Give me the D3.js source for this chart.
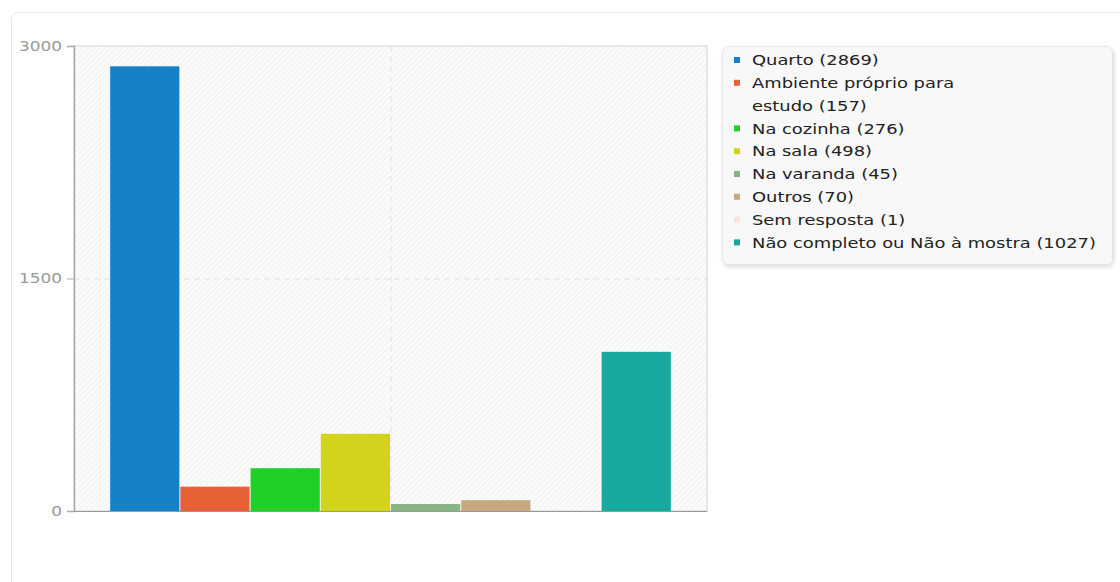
<!DOCTYPE html>
<html><head><meta charset="utf-8">
<script src="https://cdn.jsdelivr.net/npm/d3@7"></script>
<style>
body{margin:0;background:#fff;font-family:"DejaVu Sans",sans-serif;}
svg{display:block;}
</style></head><body>
<svg id="c" width="1120" height="582"></svg>
<script>
const categories = ["Quarto","Ambiente próprio para estudo","Na cozinha","Na sala","Na varanda","Outros","Sem resposta","Não completo ou Não à mostra"];
const values = [2869,157,276,498,45,70,1,1027];
const colors = ["#1581c8","#e86035","#21d024","#d2d41c","#88b483","#c8a880","#fde4db","#17a8a0"];
const legendLines = [["Quarto (2869)"],["Ambiente próprio para","estudo (157)"],["Na cozinha (276)"],["Na sala (498)"],["Na varanda (45)"],["Outros (70)"],["Sem resposta (1)"],["Não completo ou Não à mostra (1027)"]];
const yTicks = [0,1500,3000];

const SX = 1.21; // horizontal glyph stretch seen in the reference
const svg = d3.select("#c");
const defs = svg.append("defs");
const pat = defs.append("pattern").attr("id","hatch").attr("patternUnits","userSpaceOnUse")
  .attr("width",4).attr("height",4).attr("patternTransform","rotate(45)");
pat.append("rect").attr("width",4).attr("height",4).attr("fill","#fbfbfb");
pat.append("line").attr("x1",0).attr("y1",0).attr("x2",0).attr("y2",4).attr("stroke","#eeeeee").attr("stroke-width",1.5);
const f = defs.append("filter").attr("id","sh").attr("x","-10%").attr("y","-10%").attr("width","120%").attr("height","130%");
f.append("feDropShadow").attr("dx",1).attr("dy",2).attr("stdDeviation",2).attr("flood-color","#000").attr("flood-opacity",0.15);

// outer panel
svg.append("rect").attr("x",11.5).attr("y",12.5).attr("width",1130).attr("height",600).attr("rx",6)
  .attr("fill","#fff").attr("stroke","#e8e8e8");

const m = {l:74,t:46,r:707,b:511};
const y = d3.scaleLinear().domain([0,3000]).range([m.b,m.t]);
const x0 = d3.scaleBand().domain(["g"]).range([m.l,m.r]).paddingInner(0).paddingOuter(0.0635);
const x1 = d3.scaleBand().domain(categories).range([0,x0.bandwidth()]).padding(0);

// plot bg
svg.append("rect").attr("x",m.l).attr("y",m.t).attr("width",m.r-m.l).attr("height",m.b-m.t)
  .attr("fill","url(#hatch)").attr("stroke","#e6e6e6").attr("stroke-width",2);

// grid
svg.append("g").selectAll("line").data(yTicks.filter(d=>d>0&&d<3000)).join("line")
  .attr("x1",m.l).attr("x2",m.r).attr("y1",d=>y(d)+0.5).attr("y2",d=>y(d)+0.5)
  .attr("stroke","#e3e3e3").attr("stroke-dasharray","6,4");
svg.append("line").attr("x1",(m.l+m.r)/2+0.5).attr("x2",(m.l+m.r)/2+0.5).attr("y1",m.t).attr("y2",m.b)
  .attr("stroke","#e3e3e3").attr("stroke-dasharray","6,4");

// bars
const g = svg.append("g").attr("transform",`translate(${x0("g")},0)`);
g.selectAll("rect").data(values).join("rect")
  .attr("x",(d,i)=>x1(categories[i])+0.5)
  .attr("width",x1.bandwidth()-1)
  .attr("y",d=>y(d))
  .attr("height",d=>m.b-y(d))
  .attr("fill",(d,i)=>colors[i]);

// y axis
const ax = svg.append("g").attr("transform",`translate(${m.l},0)`)
  .call(d3.axisLeft(y).tickValues(yTicks).tickFormat(d3.format("d")).tickSize(7).tickPadding(0));
ax.select(".domain").attr("stroke","#aaa").attr("stroke-width",1.5);
ax.selectAll(".tick line").attr("stroke","#aaa");
ax.selectAll(".tick text").attr("x",null).attr("fill","#999").attr("font-size",14).attr("font-family","DejaVu Sans")
  .attr("transform",`translate(-12,0) scale(${SX},1)`);
// x axis base
svg.append("line").attr("x1",m.l).attr("x2",m.r).attr("y1",m.b+0.5).attr("y2",m.b+0.5).attr("stroke","#999");

// legend
const L = svg.append("g");
L.append("rect").attr("x",722.5).attr("y",46.5).attr("width",390).attr("height",218).attr("rx",6)
  .attr("fill","#f8f8f8").attr("stroke","#e6e6e6").attr("filter","url(#sh)");
let row = 0;
const lh = 22.8;
legendLines.forEach((lines,i)=>{
  const yy = 60 + row*lh;
  L.append("rect").attr("x",734).attr("y",yy-3).attr("width",6).attr("height",6).attr("fill",colors[i]);
  lines.forEach((t,j)=>{
    L.append("text").attr("transform",`translate(752,${yy+j*lh}) scale(${SX},1)`).attr("dy","0.35em")
      .attr("font-size",14.8).attr("fill","#222").text(t);
  });
  row += lines.length;
});
</script></body></html>
